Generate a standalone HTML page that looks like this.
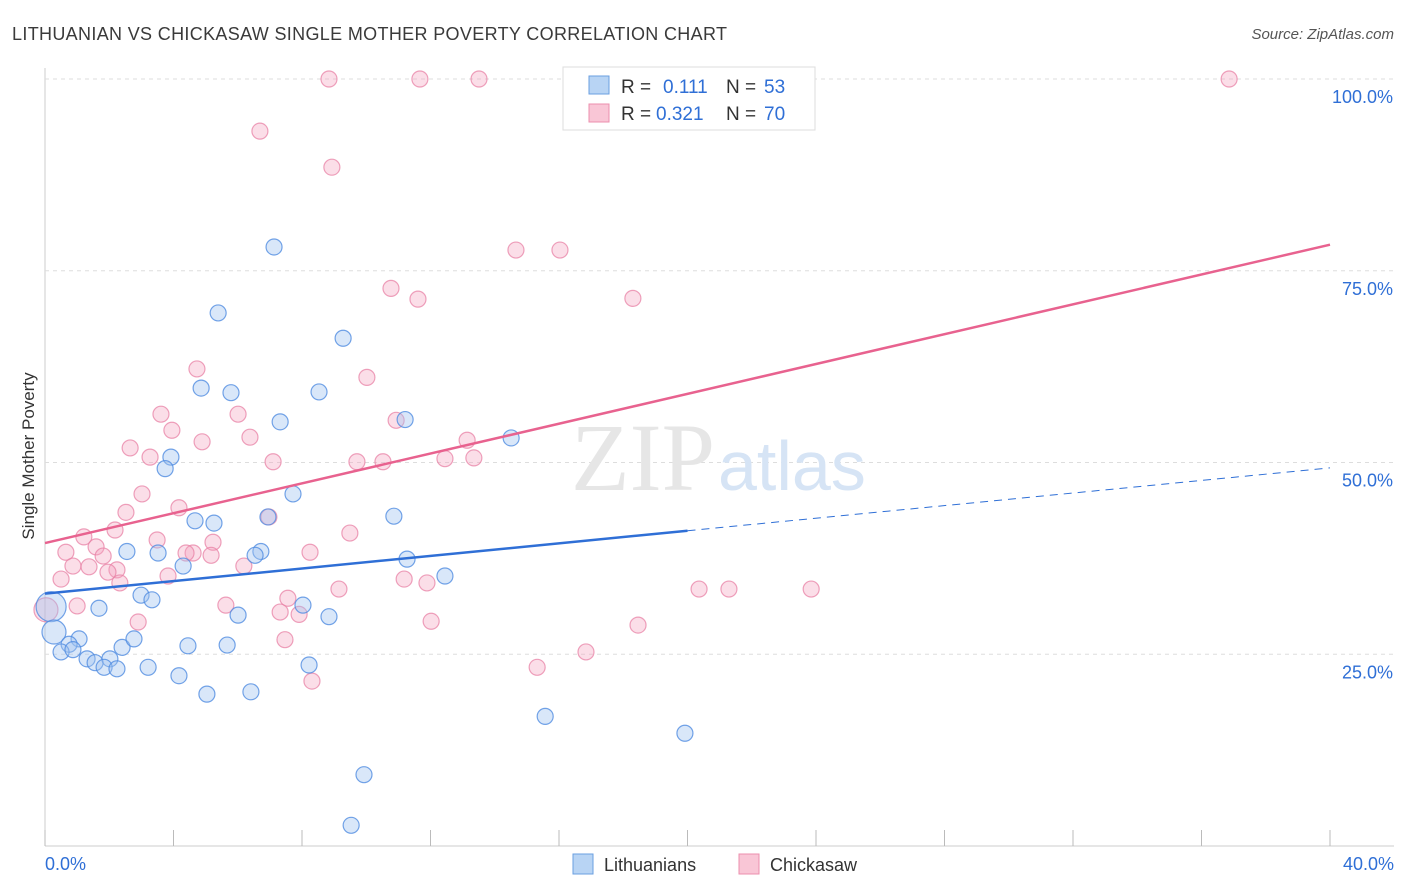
<!DOCTYPE html>
<html><head><meta charset="utf-8"><style>
body{margin:0;background:#fff;font-family:"Liberation Sans",sans-serif;}
svg{display:block}
</style></head><body>
<svg id="chart" width="1406" height="892" xmlns="http://www.w3.org/2000/svg" font-family="Liberation Sans, sans-serif">
<text x="12" y="40" font-size="18" fill="#3a3a3a" textLength="715">LITHUANIAN VS CHICKASAW SINGLE MOTHER POVERTY CORRELATION CHART</text>
<text x="1394" y="39" font-size="15" fill="#555" text-anchor="end" font-style="italic">Source: ZipAtlas.com</text>
<text transform="translate(34,456) rotate(-90)" font-size="17" fill="#333" text-anchor="middle">Single Mother Poverty</text>
<g id="grid"></g>
<text x="715" y="490" font-size="96" fill="#e6e6e6" text-anchor="end" font-family="Liberation Serif, serif">ZIP</text>
<text x="718" y="490" font-size="70" fill="#d6e4f5">atlas</text>
<g id="pts"></g>
<g id="lines"></g>
<g>
<rect x="563" y="67" width="252" height="63" fill="#fff" stroke="#ddd"/>
<rect x="589" y="76" width="20" height="18" fill="#b8d4f4" stroke="#6a9fe0"/>
<rect x="589" y="104" width="20" height="18" fill="#f9c6d6" stroke="#ec8fae"/>
<text x="621" y="93" font-size="19" fill="#333">R =</text>
<text x="663" y="93" font-size="19" fill="#2f6fd6">0.111</text>
<text x="726" y="93" font-size="19" fill="#333">N =</text>
<text x="764" y="93" font-size="19" fill="#2f6fd6">53</text>
<text x="621" y="120" font-size="19" fill="#333">R =</text>
<text x="656" y="120" font-size="19" fill="#2f6fd6">0.321</text>
<text x="726" y="120" font-size="19" fill="#333">N =</text>
<text x="764" y="120" font-size="19" fill="#2f6fd6">70</text>
</g>
<g>
<rect x="573" y="854" width="20" height="20" fill="#b8d4f4" stroke="#6a9fe0"/>
<text x="604" y="871" font-size="18" fill="#333">Lithuanians</text>
<rect x="739" y="854" width="20" height="20" fill="#f9c6d6" stroke="#ec8fae"/>
<text x="770" y="871" font-size="18" fill="#333">Chickasaw</text>
</g>
</svg>
<script>
const xTickVals=[0,4,8,12,16,20,24,28,32,36,40];
const yTickVals=[25,50,75,100];
const yTickLabels=["25.0%","50.0%","75.0%","100.0%"];
const xEndLabels=["0.0%","40.0%"];
const blueX=[7.13,5.39,9.28,5.79,4.86,8.53,7.32,11.21,14.51,3.92,3.74,7.72,4.67,5.26,6.94,10.86,2.55,3.52,6.72,6.54,11.27,4.30,12.45,2.99,3.33,1.68,8.03,0.19,8.84,6.01,0.28,1.06,0.75,2.40,2.77,4.45,5.67,0.50,0.87,1.31,1.56,2.02,1.84,2.24,3.21,8.22,4.17,5.04,6.41,15.57,19.92,9.93,9.53];
const blueY=[78.1,69.5,66.2,59.1,59.7,59.2,55.3,55.6,53.2,50.7,49.2,45.9,42.4,42.1,42.9,43.0,38.4,38.2,38.4,37.9,37.4,36.5,35.2,32.7,32.1,31.0,31.4,31.2,29.9,30.1,27.9,27.0,26.3,25.9,27.0,26.1,26.2,25.3,25.6,24.4,23.9,24.4,23.3,23.1,23.3,23.6,22.2,19.8,20.1,16.9,14.7,9.3,2.7];
const pinkX=[8.84,11.67,13.51,36.86,6.69,8.93,14.66,16.03,10.77,11.61,18.30,4.73,10.02,3.61,6.01,10.93,3.95,6.38,4.89,13.14,2.65,3.27,7.10,9.71,10.52,12.45,13.35,3.02,4.17,6.97,2.52,2.18,9.49,1.21,3.49,5.23,1.59,0.65,1.81,4.61,4.39,5.17,8.25,0.87,1.37,2.24,1.96,6.19,3.83,0.50,2.33,11.18,11.89,9.15,20.36,21.29,23.85,7.56,5.63,1.00,0.03,7.32,7.91,2.90,12.02,18.46,7.47,16.84,15.32,8.31];
const pinkY=[100,100,100,100,93.2,88.5,77.7,77.7,72.7,71.3,71.4,62.2,61.1,56.3,56.3,55.5,54.2,53.3,52.7,52.9,51.9,50.7,50.1,50.1,50.1,50.5,50.6,45.9,44.1,42.9,43.5,41.2,40.8,40.3,39.9,39.6,39.0,38.3,37.8,38.2,38.2,37.9,38.3,36.5,36.4,36.0,35.7,36.5,35.2,34.8,34.3,34.8,34.3,33.5,33.5,33.5,33.5,32.3,31.4,31.3,30.8,30.5,30.2,29.2,29.3,28.8,26.9,25.3,23.3,21.5];
const blueTrend=[32.9,49.3];
const pinkTrend=[39.5,78.4];
const blueSolidEnd=20;
const NS="http://www.w3.org/2000/svg";
const sx=v=>45+v/40*1285;
const sy=v=>846-v/100*767;
function mk(tag,attrs,parent){const e=document.createElementNS(NS,tag);for(const k in attrs)e.setAttribute(k,attrs[k]);parent.appendChild(e);return e;}
const grid=document.getElementById('grid');
let ax=mk('line',{x1:45,y1:68,x2:45,y2:846,stroke:'#ccc'},grid);


let bx=mk('line',{x1:45,y1:846,x2:1394,y2:846,stroke:'#ccc'},grid);


yTickVals.forEach((v,i)=>{
 let g=mk('line',{x1:45,x2:1394,y1:sy(v),y2:sy(v),stroke:'#ddd','stroke-dasharray':'4,4'},grid);
 
 
 let t=mk('text',{x:1393,y:sy(v)+24,'font-size':18,fill:'#2f6fd6','text-anchor':'end'},grid);t.textContent=yTickLabels[i];
 
 
});
xTickVals.forEach(v=>{
 let l=mk('line',{x1:sx(v),x2:sx(v),y1:830,y2:846,stroke:'#bbb'},grid);
 
 
});
let t0=mk('text',{x:45,y:870,'font-size':18,fill:'#2f6fd6'},grid);t0.textContent=xEndLabels[0];


let t1=mk('text',{x:1394,y:870,'font-size':18,fill:'#2f6fd6','text-anchor':'end'},grid);t1.textContent=xEndLabels[1];


const pts=document.getElementById('pts');
pinkX.forEach((x,i)=>{
 let r=(i===60)?12:8;
 let c=mk('circle',{cx:sx(x),cy:sy(pinkY[i]),r:r,fill:'rgba(244,160,188,0.35)',stroke:'rgba(232,130,165,0.75)','stroke-width':1.2},pts);
 
 
});
blueX.forEach((x,i)=>{
 let r=(i===27)?15:(i===30?12:8);
 let c=mk('circle',{cx:sx(x),cy:sy(blueY[i]),r:r,fill:'rgba(160,196,240,0.4)',stroke:'rgba(80,140,225,0.8)','stroke-width':1.2},pts);
 
 
});
const lines=document.getElementById('lines');
const by=x=>blueTrend[0]+(blueTrend[1]-blueTrend[0])*x/40;
let b1=mk('line',{x1:sx(0),y1:sy(by(0)),x2:sx(blueSolidEnd),y2:sy(by(blueSolidEnd)),stroke:'#2f6fd6','stroke-width':2.5},lines);


let b2=mk('line',{x1:sx(blueSolidEnd),y1:sy(by(blueSolidEnd)),x2:sx(40),y2:sy(by(40)),stroke:'#2f6fd6','stroke-width':1,'stroke-dasharray':'8,6'},lines);


let p1=mk('line',{x1:sx(0),y1:sy(pinkTrend[0]),x2:sx(40),y2:sy(pinkTrend[1]),stroke:'#e8628f','stroke-width':2.5},lines);


</script>
</body></html>
